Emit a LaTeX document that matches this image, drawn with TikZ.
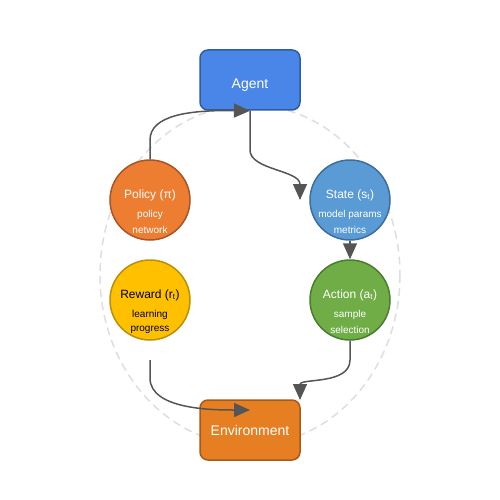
\documentclass[tikz,border=0pt]{standalone}
\usepackage{fontspec}
\setmainfont{Liberation Sans}
\usetikzlibrary{arrows.meta,positioning}
\definecolor{agentblue}{HTML}{4A86E8}
\definecolor{agentedge}{HTML}{2E5C9E}
\definecolor{envorange}{HTML}{E67E22}
\definecolor{envedge}{HTML}{A65A1A}
\definecolor{policyfill}{HTML}{ED7D31}
\definecolor{policyedge}{HTML}{A8552A}
\definecolor{statefill}{HTML}{5B9BD5}
\definecolor{stateedge}{HTML}{3D6E9E}
\definecolor{rewardfill}{HTML}{FFC000}
\definecolor{rewardedge}{HTML}{B8900A}
\definecolor{actionfill}{HTML}{70AD47}
\definecolor{actionedge}{HTML}{4A7D2E}
\definecolor{flow}{HTML}{555555}
\tikzset{every picture/.style={
  >={Triangle[length=16pt,width=14pt]}  % big filled tips.
  }
}

\begin{document}
\begin{tikzpicture}[
    x=1pt, y=-1pt,
    box/.style={
      draw,
      line width=1.5pt,
      rounded corners=8pt,
      minimum width=100pt,
      minimum height=60pt,
      text=white,
      font=\fontsize{14}{16}\selectfont
    },
    ring/.style={
      circle,
      draw,
      line width=1.5pt,
      minimum size=80pt,
      inner sep=0pt
    },
    ttl/.style={font=\fontsize{12}{14}\selectfont, inner sep=0pt},
    sub/.style={font=\fontsize{10}{12}\selectfont, inner sep=0pt},
    flowline/.style={->, draw=flow, line width=1.5pt}
  ]

    % Fix the page size.
    \useasboundingbox (0,0) rectangle (500,500);

    % Draw the dashed loop behind everything.
    \draw[draw=black!13, line width=1.5pt, dash pattern=on 8pt off 5pt]
      (250,275) ellipse [x radius=150, y radius=170];

    % Draw the two boxes.
    \node[box,fill=agentblue,draw=agentedge] (agent) at (250,80) {};
    \node[box,fill=envorange,draw=envedge] (env) at (250,430) {};
    \node[font=\fontsize{14}{16}\selectfont,text=white] (agentT) at (250,85)
      {Agent};
    \node[font=\fontsize{14}{16}\selectfont,text=white] (envT) at (250,430)
      {Environment};

    % Draw the four circles.
    \node[ring,fill=policyfill,draw=policyedge] (policy) at (150,200) {};
    \node[ring,fill=statefill,draw=stateedge] (state) at (350,200) {};
    \node[ring,fill=rewardfill,draw=rewardedge] (reward) at (150,300) {};
    \node[ring,fill=actionfill,draw=actionedge] (action) at (350,300) {};

    % Label the circles.
    \node[ttl,text=white] (policyT) at (150,195) {Policy (π)};
    \node[sub,text=white] at (150,215) {policy};
    \node[sub,text=white] at (150,230) {network};
    \node[ttl,text=white] (stateT) at (350,195) {State (s\textsubscript{t})};
    \node[sub,text=white] at (350,215) {model params};
    \node[sub,text=white] at (350,230) {metrics};
    \node[ttl,text=black] (rewardT) at (150,295) {Reward (r\textsubscript{t})};
    \node[sub,text=black] at (150,315) {learning};
    \node[sub,text=black] at (150,330) {progress};
    \node[ttl,text=white] (actionT) at (350,295) {Action (a\textsubscript{t})};
    \node[sub,text=white] at (350,315) {sample};
    \node[sub,text=white] at (350,330) {selection};

    % Free ends of the connectors.
    \coordinate (stateIn) at (300,200);
    \coordinate (envIn) at (300,400);
    \coordinate (rewardOut) at (150,360);
    \coordinate (envTop) at (250,410);

    % Draw the loop of connectors.
    \draw[flowline] (policy.north) -- (150,140)
      .. controls (150,115) and (190,110) .. (agent.south);
    \draw[flowline] (agent.south) -- (250,150)
      .. controls (250,170) and (300,170) .. (stateIn);
    \draw[flowline] (state.south) -- (action.north);
    \draw[flowline] (action.south) -- (350,360)
      .. controls (350,385) and (300,378) .. (envIn);
    \draw[flowline] (rewardOut) -- (150,378)
      .. controls (150,410) and (215,410) .. (envTop);
  \end{tikzpicture}
\end{document}
